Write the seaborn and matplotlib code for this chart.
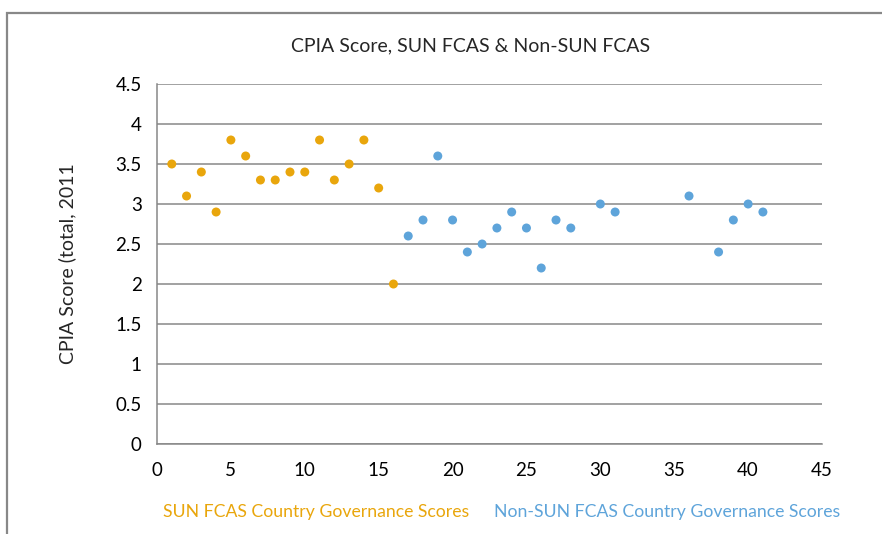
import seaborn as sns
import matplotlib.pyplot as plt
import pandas as pd
from matplotlib.patches import Rectangle

sun_x = list(range(1, 17))
sun_y = [3.5, 3.1, 3.4, 2.9, 3.8, 3.6, 3.3, 3.3, 3.4, 3.4, 3.8, 3.3, 3.5, 3.8, 3.2, 2.0]
non_x = [17, 18, 19, 20, 21, 22, 23, 24, 25, 26, 27, 28, 30, 31, 36, 38, 39, 40, 41]
non_y = [2.6, 2.8, 3.6, 2.8, 2.4, 2.5, 2.7, 2.9, 2.7, 2.2, 2.8, 2.7, 3.0, 2.9, 3.1, 2.4, 2.8, 3.0, 2.9]
sun_name = "SUN FCAS Country Governance Scores"
non_name = "Non-SUN FCAS Country Governance Scores"
colors = {sun_name: "#E9A60C", non_name: "#5EA4DA"}

df = pd.DataFrame({
    "x": sun_x + non_x,
    "y": sun_y + non_y,
    "group": [sun_name] * len(sun_x) + [non_name] * len(non_x),
})

sns.set_theme(style="white")
plt.rcParams["font.family"] = ["Lato", "DejaVu Sans"]

fig = plt.figure(figsize=(8.82, 5.34), dpi=100)
ax = fig.add_axes([0.178, 0.1685, 0.754, 0.6742])
sns.scatterplot(data=df, x="x", y="y", hue="group", palette=colors,
                s=42, linewidth=0, legend=False, ax=ax, zorder=3)

grid_c = "#878787"
ax.set_xlim(0, 45)
ax.set_ylim(0, 4.5)
ax.set_xticks(range(0, 50, 5))
ax.set_yticks([0, 0.5, 1, 1.5, 2, 2.5, 3, 3.5, 4, 4.5])
ax.set_yticklabels(["0", "0.5", "1", "1.5", "2", "2.5", "3", "3.5", "4", "4.5"])
ax.yaxis.grid(True, color=grid_c, linewidth=1.1)
ax.set_axisbelow(True)
for s in ["top", "right"]:
    ax.spines[s].set_visible(False)
for s in ["left", "bottom"]:
    ax.spines[s].set_color(grid_c)
    ax.spines[s].set_linewidth(1.1)
ax.tick_params(axis="both", direction="out", length=5, width=1.1, color=grid_c,
               labelsize=13.5, labelcolor="black", pad=6)
ax.tick_params(axis="x", pad=8)
ax.set_xlabel("")
ax.set_ylabel("CPIA Score (total, 2011", fontsize=14, labelpad=28)

fig.text(0.533, 0.915, "CPIA Score, SUN FCAS & Non-SUN FCAS", ha="center", va="center", fontsize=14)
fig.text(0.358, 0.041, sun_name, ha="center", va="center", fontsize=12.7, color=colors[sun_name])
fig.text(0.756, 0.041, non_name, ha="center", va="center", fontsize=12.7, color=colors[non_name])

fig.patches.append(Rectangle((7 / 882, -0.1), 1.2, 1 - 13 / 534 + 0.1, transform=fig.transFigure,
                             fill=False, edgecolor="#888888", linewidth=1.6))

fig.savefig("out.png", dpi=100)
